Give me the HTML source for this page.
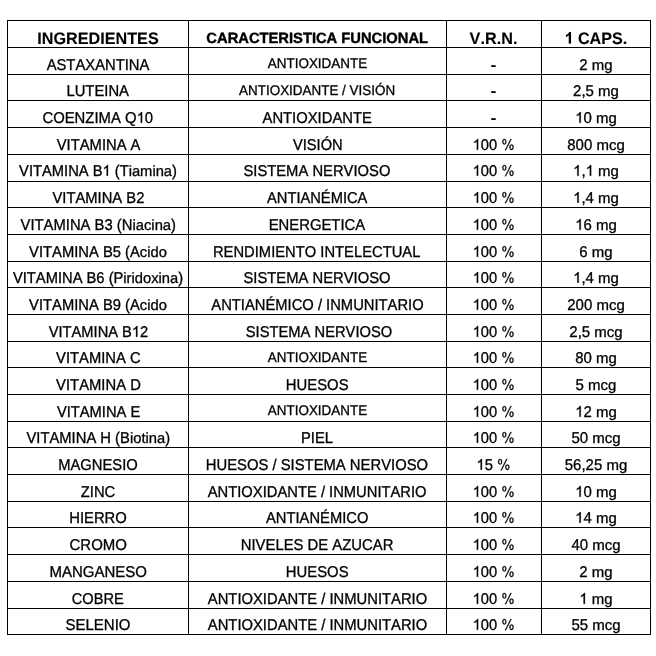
<!DOCTYPE html><html><head><meta charset="utf-8"><style>html,body{margin:0;padding:0;background:#fff;width:656px;height:656px;overflow:hidden}svg{display:block;will-change:transform}text{font-family:"Liberation Sans",sans-serif;fill:#000;font-kerning:none;text-rendering:geometricPrecision;stroke:#000;white-space:pre}path{fill:#000;stroke:#000;vector-effect:non-scaling-stroke}</style></head><body>
<svg width="656" height="656" viewBox="0 0 656 656">
<rect x="0" y="0" width="656" height="656" fill="#fff"/>
<rect x="7" y="20" width="644" height="1" fill="#000"/>
<rect x="7" y="47" width="644" height="1" fill="#000"/>
<rect x="7" y="74" width="644" height="1" fill="#000"/>
<rect x="7" y="100" width="644" height="1" fill="#000"/>
<rect x="7" y="127" width="644" height="1" fill="#000"/>
<rect x="7" y="154" width="644" height="1" fill="#000"/>
<rect x="7" y="181" width="644" height="1" fill="#000"/>
<rect x="7" y="207" width="644" height="1" fill="#000"/>
<rect x="7" y="234" width="644" height="1" fill="#000"/>
<rect x="7" y="261" width="644" height="1" fill="#000"/>
<rect x="7" y="287" width="644" height="1" fill="#000"/>
<rect x="7" y="314" width="644" height="1" fill="#000"/>
<rect x="7" y="341" width="644" height="1" fill="#000"/>
<rect x="7" y="367" width="644" height="1" fill="#000"/>
<rect x="7" y="394" width="644" height="1" fill="#000"/>
<rect x="7" y="421" width="644" height="1" fill="#000"/>
<rect x="7" y="447" width="644" height="1" fill="#000"/>
<rect x="7" y="474" width="644" height="1" fill="#000"/>
<rect x="7" y="501" width="644" height="1" fill="#000"/>
<rect x="7" y="527" width="644" height="1" fill="#000"/>
<rect x="7" y="554" width="644" height="1" fill="#000"/>
<rect x="7" y="581" width="644" height="1" fill="#000"/>
<rect x="7" y="608" width="644" height="1" fill="#000"/>
<rect x="7" y="634" width="644" height="1" fill="#000"/>
<rect x="7" y="20" width="1" height="615" fill="#000"/>
<rect x="188" y="20" width="1" height="615" fill="#000"/>
<rect x="446" y="20" width="1" height="615" fill="#000"/>
<rect x="541" y="20" width="1" height="615" fill="#000"/>
<rect x="650" y="20" width="1" height="615" fill="#000"/>
<text transform="translate(37.320 43.600) scale(1.0112 1.0405)" font-size="16" font-weight="bold" style="stroke-width:0.1px">INGREDIENTES</text>
<text transform="translate(206.360 43.000) scale(0.9952 1.0000)" font-size="14.8" font-weight="bold" style="stroke-width:0.4px">CARACTERISTICA FUNCIONAL</text>
<text transform="translate(469.578 43.600) scale(1.0150 1.0405)" font-size="16" font-weight="bold" style="stroke-width:0.1px">V.R.N.</text>
<path d="M834 0L553 0L553 1059C450 963 329 892 190 846L190 1101C263 1125 343 1170 429 1237C515 1304 574 1382 606 1472L834 1472Z" transform="translate(564.442 43.600) scale(0.007872 -0.007812)" style="stroke-width:0.1px"/>
<text transform="translate(573.408 43.600) scale(1.0076 1.0405)" font-size="16" font-weight="bold" style="stroke-width:0.1px"> CAPS.</text>
<text transform="translate(46.641 69.800) scale(0.9859 1.0405)" font-size="15" style="stroke-width:0.3px">ASTAXANTINA</text>
<text transform="translate(66.429 95.800) scale(0.9873 1.0405)" font-size="15" style="stroke-width:0.3px">LUTEINA</text>
<text transform="translate(42.398 122.800) scale(0.9912 1.0405)" font-size="15" style="stroke-width:0.3px">COENZIMA Q</text>
<path d="M763 0L583 0L583 1147C540 1106 483 1064 412 1023C342 981 278 950 223 929L223 1103C323 1150 411 1207 485 1274C560 1341 613 1406 644 1472L763 1472Z" transform="translate(136.564 122.800) scale(0.007260 -0.007324)" style="stroke-width:0.3px"/>
<text transform="translate(144.833 122.800) scale(0.9912 1.0405)" font-size="15" style="stroke-width:0.3px">0</text>
<text transform="translate(56.773 149.800) scale(0.9845 1.0405)" font-size="15" style="stroke-width:0.3px">VITAMINA A</text>
<text transform="translate(19.073 175.800) scale(0.9813 1.0405)" font-size="15" style="stroke-width:0.3px">VITAMINA B</text>
<path d="M763 0L583 0L583 1147C540 1106 483 1064 412 1023C342 981 278 950 223 929L223 1103C323 1150 411 1207 485 1274C560 1341 613 1406 644 1472L763 1472Z" transform="translate(102.496 175.800) scale(0.007187 -0.007324)" style="stroke-width:0.3px"/>
<text transform="translate(110.682 175.800) scale(0.9813 1.0405)" font-size="15" style="stroke-width:0.3px"> (T</text>
<text transform="translate(128.664 175.800) scale(0.9813 0.9815)" font-size="15" style="stroke-width:0.3px">iamina</text>
<text transform="translate(172.025 175.800) scale(0.9813 1.0405)" font-size="15" style="stroke-width:0.3px">)</text>
<text transform="translate(52.471 202.800) scale(0.9844 1.0405)" font-size="15" style="stroke-width:0.3px">VITAMINA B2</text>
<text transform="translate(20.579 229.800) scale(0.9867 1.0405)" font-size="15" style="stroke-width:0.3px">VITAMINA B3 (N</text>
<text transform="translate(132.421 229.800) scale(0.9867 0.9815)" font-size="15" style="stroke-width:0.3px">iacina</text>
<text transform="translate(171.092 229.800) scale(0.9867 1.0405)" font-size="15" style="stroke-width:0.3px">)</text>
<text transform="translate(29.087 256.800) scale(0.9842 1.0405)" font-size="15" style="stroke-width:0.3px">VITAMINA B5 (A</text>
<text transform="translate(139.831 256.800) scale(0.9842 0.9815)" font-size="15" style="stroke-width:0.3px">cido</text>
<text transform="translate(12.958 282.800) scale(0.9810 1.0405)" font-size="15" style="stroke-width:0.3px">VITAMINA B6 (P</text>
<text transform="translate(123.342 282.800) scale(0.9810 0.9815)" font-size="15" style="stroke-width:0.3px">iridoxina</text>
<text transform="translate(178.142 282.800) scale(0.9810 1.0405)" font-size="15" style="stroke-width:0.3px">)</text>
<text transform="translate(29.087 309.800) scale(0.9842 1.0405)" font-size="15" style="stroke-width:0.3px">VITAMINA B9 (A</text>
<text transform="translate(139.831 309.800) scale(0.9842 0.9815)" font-size="15" style="stroke-width:0.3px">cido</text>
<text transform="translate(48.695 336.800) scale(0.9787 1.0405)" font-size="15" style="stroke-width:0.3px">VITAMINA B</text>
<path d="M763 0L583 0L583 1147C540 1106 483 1064 412 1023C342 981 278 950 223 929L223 1103C323 1150 411 1207 485 1274C560 1341 613 1406 644 1472L763 1472Z" transform="translate(131.896 336.800) scale(0.007168 -0.007324)" style="stroke-width:0.3px"/>
<text transform="translate(140.061 336.800) scale(0.9787 1.0405)" font-size="15" style="stroke-width:0.3px">2</text>
<text transform="translate(56.100 362.800) scale(0.9844 1.0405)" font-size="15" style="stroke-width:0.3px">VITAMINA C</text>
<text transform="translate(56.102 389.800) scale(0.9876 1.0405)" font-size="15" style="stroke-width:0.3px">VITAMINA D</text>
<text transform="translate(56.920 416.800) scale(0.9794 1.0405)" font-size="15" style="stroke-width:0.3px">VITAMINA E</text>
<text transform="translate(26.485 442.800) scale(0.9847 1.0405)" font-size="15" style="stroke-width:0.3px">VITAMINA H (B</text>
<text transform="translate(129.886 442.800) scale(0.9847 0.9815)" font-size="15" style="stroke-width:0.3px">iotina</text>
<text transform="translate(165.196 442.800) scale(0.9847 1.0405)" font-size="15" style="stroke-width:0.3px">)</text>
<text transform="translate(58.216 469.800) scale(0.9842 1.0405)" font-size="15" style="stroke-width:0.3px">MAGNESIO</text>
<text transform="translate(80.744 496.800) scale(0.9862 1.0405)" font-size="15" style="stroke-width:0.3px">ZINC</text>
<text transform="translate(69.175 522.800) scale(0.9882 1.0405)" font-size="15" style="stroke-width:0.3px">HIERRO</text>
<text transform="translate(69.492 549.800) scale(1.0000 1.0405)" font-size="15" style="stroke-width:0.3px">CROMO</text>
<text transform="translate(49.483 576.800) scale(1.0000 1.0405)" font-size="15" style="stroke-width:0.3px">MANGANESO</text>
<text transform="translate(71.677 603.800) scale(0.9757 1.0405)" font-size="15" style="stroke-width:0.3px">COBRE</text>
<text transform="translate(65.488 629.800) scale(1.0000 1.0405)" font-size="15" style="stroke-width:0.3px">SELENIO</text>
<text transform="translate(267.819 67.800) scale(0.9960 1.0405)" font-size="13.5" style="stroke-width:0.3px">ANTIOXIDANTE</text>
<text transform="translate(239.076 94.800) scale(0.9955 1.0405)" font-size="13.5" style="stroke-width:0.3px">ANTIOXIDANTE / VISIÓN</text>
<text transform="translate(262.538 122.800) scale(0.9861 1.0405)" font-size="15" style="stroke-width:0.3px">ANTIOXIDANTE</text>
<text transform="translate(293.010 149.800) scale(0.9763 1.0405)" font-size="15" style="stroke-width:0.3px">VISIÓN</text>
<text transform="translate(243.417 175.800) scale(0.9852 1.0405)" font-size="15" style="stroke-width:0.3px">SISTEMA NERVIOSO</text>
<text transform="translate(267.042 202.800) scale(0.9786 1.0405)" font-size="15" style="stroke-width:0.3px">ANTIANÉMICA</text>
<text transform="translate(268.635 229.800) scale(0.9901 1.0405)" font-size="15" style="stroke-width:0.3px">ENERGETICA</text>
<text transform="translate(212.951 256.800) scale(0.9836 1.0405)" font-size="15" style="stroke-width:0.3px">RENDIMIENTO INTELECTUAL</text>
<text transform="translate(243.517 282.800) scale(0.9852 1.0405)" font-size="15" style="stroke-width:0.3px">SISTEMA NERVIOSO</text>
<text transform="translate(211.362 309.800) scale(0.9835 1.0405)" font-size="15" style="stroke-width:0.3px">ANTIANÉMICO / INMUNITARIO</text>
<text transform="translate(245.718 336.800) scale(0.9825 1.0405)" font-size="15" style="stroke-width:0.3px">SISTEMA NERVIOSO</text>
<text transform="translate(267.854 361.800) scale(0.9953 1.0405)" font-size="13.5" style="stroke-width:0.3px">ANTIOXIDANTE</text>
<text transform="translate(285.820 389.800) scale(0.9901 1.0405)" font-size="15" style="stroke-width:0.3px">HUESOS</text>
<text transform="translate(267.854 414.800) scale(0.9953 1.0405)" font-size="13.5" style="stroke-width:0.3px">ANTIOXIDANTE</text>
<text transform="translate(300.943 442.800) scale(0.9851 1.0405)" font-size="15" style="stroke-width:0.3px">PIEL</text>
<text transform="translate(205.748 469.800) scale(0.9880 1.0405)" font-size="15" style="stroke-width:0.3px">HUESOS / SISTEMA NERVIOSO</text>
<text transform="translate(207.761 496.800) scale(0.9835 1.0405)" font-size="15" style="stroke-width:0.3px">ANTIOXIDANTE / INMUNITARIO</text>
<text transform="translate(266.021 522.800) scale(0.9824 1.0405)" font-size="15" style="stroke-width:0.3px">ANTIANÉMICO</text>
<text transform="translate(240.703 549.800) scale(0.9906 1.0405)" font-size="15" style="stroke-width:0.3px">NIVELES DE AZUCAR</text>
<text transform="translate(285.820 576.800) scale(0.9901 1.0405)" font-size="15" style="stroke-width:0.3px">HUESOS</text>
<text transform="translate(207.814 603.800) scale(0.9859 1.0405)" font-size="15" style="stroke-width:0.3px">ANTIOXIDANTE / INMUNITARIO</text>
<text transform="translate(207.814 629.800) scale(0.9859 1.0405)" font-size="15" style="stroke-width:0.3px">ANTIOXIDANTE / INMUNITARIO</text>
<rect x="491.2" y="65.20" width="4.5" height="1.8" fill="#000"/>
<rect x="491.2" y="91.20" width="4.5" height="1.8" fill="#000"/>
<rect x="491.2" y="118.20" width="4.5" height="1.8" fill="#000"/>
<path d="M763 0L583 0L583 1147C540 1106 483 1064 412 1023C342 981 278 950 223 929L223 1103C323 1150 411 1207 485 1274C560 1341 613 1406 644 1472L763 1472Z" transform="translate(472.652 149.800) scale(0.007163 -0.007324)" style="stroke-width:0.3px"/>
<text transform="translate(480.811 149.800) scale(0.9780 1.0405)" font-size="15" style="stroke-width:0.3px">00 </text>
<path d="M160 1095A280 375 0 1 1 720 1095A280 375 0 1 1 160 1095ZM290 1095A150 262 0 1 0 590 1095A150 262 0 1 0 290 1095ZM1156 355A285 375 0 1 1 1726 355A285 375 0 1 1 1156 355ZM1286 355A155 262 0 1 0 1596 355A155 262 0 1 0 1286 355ZM1300 1472L1440 1472L660 -55L520 -55Z" fill-rule="evenodd" transform="translate(501.204 149.800) scale(0.007163 -0.007324)" style="stroke-width:0.3px"/>
<path d="M763 0L583 0L583 1147C540 1106 483 1064 412 1023C342 981 278 950 223 929L223 1103C323 1150 411 1207 485 1274C560 1341 613 1406 644 1472L763 1472Z" transform="translate(472.652 175.800) scale(0.007163 -0.007324)" style="stroke-width:0.3px"/>
<text transform="translate(480.811 175.800) scale(0.9780 1.0405)" font-size="15" style="stroke-width:0.3px">00 </text>
<path d="M160 1095A280 375 0 1 1 720 1095A280 375 0 1 1 160 1095ZM290 1095A150 262 0 1 0 590 1095A150 262 0 1 0 290 1095ZM1156 355A285 375 0 1 1 1726 355A285 375 0 1 1 1156 355ZM1286 355A155 262 0 1 0 1596 355A155 262 0 1 0 1286 355ZM1300 1472L1440 1472L660 -55L520 -55Z" fill-rule="evenodd" transform="translate(501.204 175.800) scale(0.007163 -0.007324)" style="stroke-width:0.3px"/>
<path d="M763 0L583 0L583 1147C540 1106 483 1064 412 1023C342 981 278 950 223 929L223 1103C323 1150 411 1207 485 1274C560 1341 613 1406 644 1472L763 1472Z" transform="translate(472.652 202.800) scale(0.007163 -0.007324)" style="stroke-width:0.3px"/>
<text transform="translate(480.811 202.800) scale(0.9780 1.0405)" font-size="15" style="stroke-width:0.3px">00 </text>
<path d="M160 1095A280 375 0 1 1 720 1095A280 375 0 1 1 160 1095ZM290 1095A150 262 0 1 0 590 1095A150 262 0 1 0 290 1095ZM1156 355A285 375 0 1 1 1726 355A285 375 0 1 1 1156 355ZM1286 355A155 262 0 1 0 1596 355A155 262 0 1 0 1286 355ZM1300 1472L1440 1472L660 -55L520 -55Z" fill-rule="evenodd" transform="translate(501.204 202.800) scale(0.007163 -0.007324)" style="stroke-width:0.3px"/>
<path d="M763 0L583 0L583 1147C540 1106 483 1064 412 1023C342 981 278 950 223 929L223 1103C323 1150 411 1207 485 1274C560 1341 613 1406 644 1472L763 1472Z" transform="translate(472.652 229.800) scale(0.007163 -0.007324)" style="stroke-width:0.3px"/>
<text transform="translate(480.811 229.800) scale(0.9780 1.0405)" font-size="15" style="stroke-width:0.3px">00 </text>
<path d="M160 1095A280 375 0 1 1 720 1095A280 375 0 1 1 160 1095ZM290 1095A150 262 0 1 0 590 1095A150 262 0 1 0 290 1095ZM1156 355A285 375 0 1 1 1726 355A285 375 0 1 1 1156 355ZM1286 355A155 262 0 1 0 1596 355A155 262 0 1 0 1286 355ZM1300 1472L1440 1472L660 -55L520 -55Z" fill-rule="evenodd" transform="translate(501.204 229.800) scale(0.007163 -0.007324)" style="stroke-width:0.3px"/>
<path d="M763 0L583 0L583 1147C540 1106 483 1064 412 1023C342 981 278 950 223 929L223 1103C323 1150 411 1207 485 1274C560 1341 613 1406 644 1472L763 1472Z" transform="translate(472.652 256.800) scale(0.007163 -0.007324)" style="stroke-width:0.3px"/>
<text transform="translate(480.811 256.800) scale(0.9780 1.0405)" font-size="15" style="stroke-width:0.3px">00 </text>
<path d="M160 1095A280 375 0 1 1 720 1095A280 375 0 1 1 160 1095ZM290 1095A150 262 0 1 0 590 1095A150 262 0 1 0 290 1095ZM1156 355A285 375 0 1 1 1726 355A285 375 0 1 1 1156 355ZM1286 355A155 262 0 1 0 1596 355A155 262 0 1 0 1286 355ZM1300 1472L1440 1472L660 -55L520 -55Z" fill-rule="evenodd" transform="translate(501.204 256.800) scale(0.007163 -0.007324)" style="stroke-width:0.3px"/>
<path d="M763 0L583 0L583 1147C540 1106 483 1064 412 1023C342 981 278 950 223 929L223 1103C323 1150 411 1207 485 1274C560 1341 613 1406 644 1472L763 1472Z" transform="translate(472.652 282.800) scale(0.007163 -0.007324)" style="stroke-width:0.3px"/>
<text transform="translate(480.811 282.800) scale(0.9780 1.0405)" font-size="15" style="stroke-width:0.3px">00 </text>
<path d="M160 1095A280 375 0 1 1 720 1095A280 375 0 1 1 160 1095ZM290 1095A150 262 0 1 0 590 1095A150 262 0 1 0 290 1095ZM1156 355A285 375 0 1 1 1726 355A285 375 0 1 1 1156 355ZM1286 355A155 262 0 1 0 1596 355A155 262 0 1 0 1286 355ZM1300 1472L1440 1472L660 -55L520 -55Z" fill-rule="evenodd" transform="translate(501.204 282.800) scale(0.007163 -0.007324)" style="stroke-width:0.3px"/>
<path d="M763 0L583 0L583 1147C540 1106 483 1064 412 1023C342 981 278 950 223 929L223 1103C323 1150 411 1207 485 1274C560 1341 613 1406 644 1472L763 1472Z" transform="translate(472.652 309.800) scale(0.007163 -0.007324)" style="stroke-width:0.3px"/>
<text transform="translate(480.811 309.800) scale(0.9780 1.0405)" font-size="15" style="stroke-width:0.3px">00 </text>
<path d="M160 1095A280 375 0 1 1 720 1095A280 375 0 1 1 160 1095ZM290 1095A150 262 0 1 0 590 1095A150 262 0 1 0 290 1095ZM1156 355A285 375 0 1 1 1726 355A285 375 0 1 1 1156 355ZM1286 355A155 262 0 1 0 1596 355A155 262 0 1 0 1286 355ZM1300 1472L1440 1472L660 -55L520 -55Z" fill-rule="evenodd" transform="translate(501.204 309.800) scale(0.007163 -0.007324)" style="stroke-width:0.3px"/>
<path d="M763 0L583 0L583 1147C540 1106 483 1064 412 1023C342 981 278 950 223 929L223 1103C323 1150 411 1207 485 1274C560 1341 613 1406 644 1472L763 1472Z" transform="translate(472.652 336.800) scale(0.007163 -0.007324)" style="stroke-width:0.3px"/>
<text transform="translate(480.811 336.800) scale(0.9780 1.0405)" font-size="15" style="stroke-width:0.3px">00 </text>
<path d="M160 1095A280 375 0 1 1 720 1095A280 375 0 1 1 160 1095ZM290 1095A150 262 0 1 0 590 1095A150 262 0 1 0 290 1095ZM1156 355A285 375 0 1 1 1726 355A285 375 0 1 1 1156 355ZM1286 355A155 262 0 1 0 1596 355A155 262 0 1 0 1286 355ZM1300 1472L1440 1472L660 -55L520 -55Z" fill-rule="evenodd" transform="translate(501.204 336.800) scale(0.007163 -0.007324)" style="stroke-width:0.3px"/>
<path d="M763 0L583 0L583 1147C540 1106 483 1064 412 1023C342 981 278 950 223 929L223 1103C323 1150 411 1207 485 1274C560 1341 613 1406 644 1472L763 1472Z" transform="translate(472.652 362.800) scale(0.007163 -0.007324)" style="stroke-width:0.3px"/>
<text transform="translate(480.811 362.800) scale(0.9780 1.0405)" font-size="15" style="stroke-width:0.3px">00 </text>
<path d="M160 1095A280 375 0 1 1 720 1095A280 375 0 1 1 160 1095ZM290 1095A150 262 0 1 0 590 1095A150 262 0 1 0 290 1095ZM1156 355A285 375 0 1 1 1726 355A285 375 0 1 1 1156 355ZM1286 355A155 262 0 1 0 1596 355A155 262 0 1 0 1286 355ZM1300 1472L1440 1472L660 -55L520 -55Z" fill-rule="evenodd" transform="translate(501.204 362.800) scale(0.007163 -0.007324)" style="stroke-width:0.3px"/>
<path d="M763 0L583 0L583 1147C540 1106 483 1064 412 1023C342 981 278 950 223 929L223 1103C323 1150 411 1207 485 1274C560 1341 613 1406 644 1472L763 1472Z" transform="translate(472.652 389.800) scale(0.007163 -0.007324)" style="stroke-width:0.3px"/>
<text transform="translate(480.811 389.800) scale(0.9780 1.0405)" font-size="15" style="stroke-width:0.3px">00 </text>
<path d="M160 1095A280 375 0 1 1 720 1095A280 375 0 1 1 160 1095ZM290 1095A150 262 0 1 0 590 1095A150 262 0 1 0 290 1095ZM1156 355A285 375 0 1 1 1726 355A285 375 0 1 1 1156 355ZM1286 355A155 262 0 1 0 1596 355A155 262 0 1 0 1286 355ZM1300 1472L1440 1472L660 -55L520 -55Z" fill-rule="evenodd" transform="translate(501.204 389.800) scale(0.007163 -0.007324)" style="stroke-width:0.3px"/>
<path d="M763 0L583 0L583 1147C540 1106 483 1064 412 1023C342 981 278 950 223 929L223 1103C323 1150 411 1207 485 1274C560 1341 613 1406 644 1472L763 1472Z" transform="translate(472.652 416.800) scale(0.007163 -0.007324)" style="stroke-width:0.3px"/>
<text transform="translate(480.811 416.800) scale(0.9780 1.0405)" font-size="15" style="stroke-width:0.3px">00 </text>
<path d="M160 1095A280 375 0 1 1 720 1095A280 375 0 1 1 160 1095ZM290 1095A150 262 0 1 0 590 1095A150 262 0 1 0 290 1095ZM1156 355A285 375 0 1 1 1726 355A285 375 0 1 1 1156 355ZM1286 355A155 262 0 1 0 1596 355A155 262 0 1 0 1286 355ZM1300 1472L1440 1472L660 -55L520 -55Z" fill-rule="evenodd" transform="translate(501.204 416.800) scale(0.007163 -0.007324)" style="stroke-width:0.3px"/>
<path d="M763 0L583 0L583 1147C540 1106 483 1064 412 1023C342 981 278 950 223 929L223 1103C323 1150 411 1207 485 1274C560 1341 613 1406 644 1472L763 1472Z" transform="translate(472.652 442.800) scale(0.007163 -0.007324)" style="stroke-width:0.3px"/>
<text transform="translate(480.811 442.800) scale(0.9780 1.0405)" font-size="15" style="stroke-width:0.3px">00 </text>
<path d="M160 1095A280 375 0 1 1 720 1095A280 375 0 1 1 160 1095ZM290 1095A150 262 0 1 0 590 1095A150 262 0 1 0 290 1095ZM1156 355A285 375 0 1 1 1726 355A285 375 0 1 1 1156 355ZM1286 355A155 262 0 1 0 1596 355A155 262 0 1 0 1286 355ZM1300 1472L1440 1472L660 -55L520 -55Z" fill-rule="evenodd" transform="translate(501.204 442.800) scale(0.007163 -0.007324)" style="stroke-width:0.3px"/>
<path d="M763 0L583 0L583 1147C540 1106 483 1064 412 1023C342 981 278 950 223 929L223 1103C323 1150 411 1207 485 1274C560 1341 613 1406 644 1472L763 1472Z" transform="translate(476.412 469.800) scale(0.007214 -0.007324)" style="stroke-width:0.3px"/>
<text transform="translate(484.629 469.800) scale(0.9850 1.0405)" font-size="15" style="stroke-width:0.3px">5 </text>
<path d="M160 1095A280 375 0 1 1 720 1095A280 375 0 1 1 160 1095ZM290 1095A150 262 0 1 0 590 1095A150 262 0 1 0 290 1095ZM1156 355A285 375 0 1 1 1726 355A285 375 0 1 1 1156 355ZM1286 355A155 262 0 1 0 1596 355A155 262 0 1 0 1286 355ZM1300 1472L1440 1472L660 -55L520 -55Z" fill-rule="evenodd" transform="translate(496.951 469.800) scale(0.007214 -0.007324)" style="stroke-width:0.3px"/>
<path d="M763 0L583 0L583 1147C540 1106 483 1064 412 1023C342 981 278 950 223 929L223 1103C323 1150 411 1207 485 1274C560 1341 613 1406 644 1472L763 1472Z" transform="translate(472.652 496.800) scale(0.007163 -0.007324)" style="stroke-width:0.3px"/>
<text transform="translate(480.811 496.800) scale(0.9780 1.0405)" font-size="15" style="stroke-width:0.3px">00 </text>
<path d="M160 1095A280 375 0 1 1 720 1095A280 375 0 1 1 160 1095ZM290 1095A150 262 0 1 0 590 1095A150 262 0 1 0 290 1095ZM1156 355A285 375 0 1 1 1726 355A285 375 0 1 1 1156 355ZM1286 355A155 262 0 1 0 1596 355A155 262 0 1 0 1286 355ZM1300 1472L1440 1472L660 -55L520 -55Z" fill-rule="evenodd" transform="translate(501.204 496.800) scale(0.007163 -0.007324)" style="stroke-width:0.3px"/>
<path d="M763 0L583 0L583 1147C540 1106 483 1064 412 1023C342 981 278 950 223 929L223 1103C323 1150 411 1207 485 1274C560 1341 613 1406 644 1472L763 1472Z" transform="translate(472.652 522.800) scale(0.007163 -0.007324)" style="stroke-width:0.3px"/>
<text transform="translate(480.811 522.800) scale(0.9780 1.0405)" font-size="15" style="stroke-width:0.3px">00 </text>
<path d="M160 1095A280 375 0 1 1 720 1095A280 375 0 1 1 160 1095ZM290 1095A150 262 0 1 0 590 1095A150 262 0 1 0 290 1095ZM1156 355A285 375 0 1 1 1726 355A285 375 0 1 1 1156 355ZM1286 355A155 262 0 1 0 1596 355A155 262 0 1 0 1286 355ZM1300 1472L1440 1472L660 -55L520 -55Z" fill-rule="evenodd" transform="translate(501.204 522.800) scale(0.007163 -0.007324)" style="stroke-width:0.3px"/>
<path d="M763 0L583 0L583 1147C540 1106 483 1064 412 1023C342 981 278 950 223 929L223 1103C323 1150 411 1207 485 1274C560 1341 613 1406 644 1472L763 1472Z" transform="translate(472.652 549.800) scale(0.007163 -0.007324)" style="stroke-width:0.3px"/>
<text transform="translate(480.811 549.800) scale(0.9780 1.0405)" font-size="15" style="stroke-width:0.3px">00 </text>
<path d="M160 1095A280 375 0 1 1 720 1095A280 375 0 1 1 160 1095ZM290 1095A150 262 0 1 0 590 1095A150 262 0 1 0 290 1095ZM1156 355A285 375 0 1 1 1726 355A285 375 0 1 1 1156 355ZM1286 355A155 262 0 1 0 1596 355A155 262 0 1 0 1286 355ZM1300 1472L1440 1472L660 -55L520 -55Z" fill-rule="evenodd" transform="translate(501.204 549.800) scale(0.007163 -0.007324)" style="stroke-width:0.3px"/>
<path d="M763 0L583 0L583 1147C540 1106 483 1064 412 1023C342 981 278 950 223 929L223 1103C323 1150 411 1207 485 1274C560 1341 613 1406 644 1472L763 1472Z" transform="translate(472.652 576.800) scale(0.007163 -0.007324)" style="stroke-width:0.3px"/>
<text transform="translate(480.811 576.800) scale(0.9780 1.0405)" font-size="15" style="stroke-width:0.3px">00 </text>
<path d="M160 1095A280 375 0 1 1 720 1095A280 375 0 1 1 160 1095ZM290 1095A150 262 0 1 0 590 1095A150 262 0 1 0 290 1095ZM1156 355A285 375 0 1 1 1726 355A285 375 0 1 1 1156 355ZM1286 355A155 262 0 1 0 1596 355A155 262 0 1 0 1286 355ZM1300 1472L1440 1472L660 -55L520 -55Z" fill-rule="evenodd" transform="translate(501.204 576.800) scale(0.007163 -0.007324)" style="stroke-width:0.3px"/>
<path d="M763 0L583 0L583 1147C540 1106 483 1064 412 1023C342 981 278 950 223 929L223 1103C323 1150 411 1207 485 1274C560 1341 613 1406 644 1472L763 1472Z" transform="translate(472.652 603.800) scale(0.007163 -0.007324)" style="stroke-width:0.3px"/>
<text transform="translate(480.811 603.800) scale(0.9780 1.0405)" font-size="15" style="stroke-width:0.3px">00 </text>
<path d="M160 1095A280 375 0 1 1 720 1095A280 375 0 1 1 160 1095ZM290 1095A150 262 0 1 0 590 1095A150 262 0 1 0 290 1095ZM1156 355A285 375 0 1 1 1726 355A285 375 0 1 1 1156 355ZM1286 355A155 262 0 1 0 1596 355A155 262 0 1 0 1286 355ZM1300 1472L1440 1472L660 -55L520 -55Z" fill-rule="evenodd" transform="translate(501.204 603.800) scale(0.007163 -0.007324)" style="stroke-width:0.3px"/>
<path d="M763 0L583 0L583 1147C540 1106 483 1064 412 1023C342 981 278 950 223 929L223 1103C323 1150 411 1207 485 1274C560 1341 613 1406 644 1472L763 1472Z" transform="translate(472.652 629.800) scale(0.007163 -0.007324)" style="stroke-width:0.3px"/>
<text transform="translate(480.811 629.800) scale(0.9780 1.0405)" font-size="15" style="stroke-width:0.3px">00 </text>
<path d="M160 1095A280 375 0 1 1 720 1095A280 375 0 1 1 160 1095ZM290 1095A150 262 0 1 0 590 1095A150 262 0 1 0 290 1095ZM1156 355A285 375 0 1 1 1726 355A285 375 0 1 1 1156 355ZM1286 355A155 262 0 1 0 1596 355A155 262 0 1 0 1286 355ZM1300 1472L1440 1472L660 -55L520 -55Z" fill-rule="evenodd" transform="translate(501.204 629.800) scale(0.007163 -0.007324)" style="stroke-width:0.3px"/>
<text transform="translate(579.326 69.800) scale(1.0000 1.0405)" font-size="15" style="stroke-width:0.3px">2 </text>
<text transform="translate(591.836 69.800) scale(1.0000 0.9815)" font-size="15" style="stroke-width:0.3px">mg</text>
<text transform="translate(573.072 95.800) scale(1.0000 1.0405)" font-size="15" style="stroke-width:0.3px">2,5 </text>
<text transform="translate(598.091 95.800) scale(1.0000 0.9815)" font-size="15" style="stroke-width:0.3px">mg</text>
<path d="M763 0L583 0L583 1147C540 1106 483 1064 412 1023C342 981 278 950 223 929L223 1103C323 1150 411 1207 485 1274C560 1341 613 1406 644 1472L763 1472Z" transform="translate(575.155 122.800) scale(0.007324 -0.007324)" style="stroke-width:0.3px"/>
<text transform="translate(583.498 122.800) scale(1.0000 1.0405)" font-size="15" style="stroke-width:0.3px">0 </text>
<text transform="translate(596.007 122.800) scale(1.0000 0.9815)" font-size="15" style="stroke-width:0.3px">mg</text>
<text transform="translate(567.234 149.800) scale(1.0000 1.0405)" font-size="15" style="stroke-width:0.3px">800 </text>
<text transform="translate(596.428 149.800) scale(1.0000 0.9815)" font-size="15" style="stroke-width:0.3px">mcg</text>
<path d="M763 0L583 0L583 1147C540 1106 483 1064 412 1023C342 981 278 950 223 929L223 1103C323 1150 411 1207 485 1274C560 1341 613 1406 644 1472L763 1472Z" transform="translate(573.072 175.800) scale(0.007324 -0.007324)" style="stroke-width:0.3px"/>
<text transform="translate(581.414 175.800) scale(1.0000 1.0405)" font-size="15" style="stroke-width:0.3px">,</text>
<path d="M763 0L583 0L583 1147C540 1106 483 1064 412 1023C342 981 278 950 223 929L223 1103C323 1150 411 1207 485 1274C560 1341 613 1406 644 1472L763 1472Z" transform="translate(585.581 175.800) scale(0.007324 -0.007324)" style="stroke-width:0.3px"/>
<text transform="translate(598.091 175.800) scale(1.0000 0.9815)" font-size="15" style="stroke-width:0.3px">mg</text>
<path d="M763 0L583 0L583 1147C540 1106 483 1064 412 1023C342 981 278 950 223 929L223 1103C323 1150 411 1207 485 1274C560 1341 613 1406 644 1472L763 1472Z" transform="translate(573.072 202.800) scale(0.007324 -0.007324)" style="stroke-width:0.3px"/>
<text transform="translate(581.414 202.800) scale(1.0000 1.0405)" font-size="15" style="stroke-width:0.3px">,4 </text>
<text transform="translate(598.091 202.800) scale(1.0000 0.9815)" font-size="15" style="stroke-width:0.3px">mg</text>
<path d="M763 0L583 0L583 1147C540 1106 483 1064 412 1023C342 981 278 950 223 929L223 1103C323 1150 411 1207 485 1274C560 1341 613 1406 644 1472L763 1472Z" transform="translate(575.155 229.800) scale(0.007324 -0.007324)" style="stroke-width:0.3px"/>
<text transform="translate(583.498 229.800) scale(1.0000 1.0405)" font-size="15" style="stroke-width:0.3px">6 </text>
<text transform="translate(596.007 229.800) scale(1.0000 0.9815)" font-size="15" style="stroke-width:0.3px">mg</text>
<text transform="translate(579.326 256.800) scale(1.0000 1.0405)" font-size="15" style="stroke-width:0.3px">6 </text>
<text transform="translate(591.836 256.800) scale(1.0000 0.9815)" font-size="15" style="stroke-width:0.3px">mg</text>
<path d="M763 0L583 0L583 1147C540 1106 483 1064 412 1023C342 981 278 950 223 929L223 1103C323 1150 411 1207 485 1274C560 1341 613 1406 644 1472L763 1472Z" transform="translate(573.072 282.800) scale(0.007324 -0.007324)" style="stroke-width:0.3px"/>
<text transform="translate(581.414 282.800) scale(1.0000 1.0405)" font-size="15" style="stroke-width:0.3px">,4 </text>
<text transform="translate(598.091 282.800) scale(1.0000 0.9815)" font-size="15" style="stroke-width:0.3px">mg</text>
<text transform="translate(567.234 309.800) scale(1.0000 1.0405)" font-size="15" style="stroke-width:0.3px">200 </text>
<text transform="translate(596.428 309.800) scale(1.0000 0.9815)" font-size="15" style="stroke-width:0.3px">mcg</text>
<text transform="translate(569.322 336.800) scale(1.0000 1.0405)" font-size="15" style="stroke-width:0.3px">2,5 </text>
<text transform="translate(594.341 336.800) scale(1.0000 0.9815)" font-size="15" style="stroke-width:0.3px">mcg</text>
<text transform="translate(575.155 362.800) scale(1.0000 1.0405)" font-size="15" style="stroke-width:0.3px">80 </text>
<text transform="translate(596.007 362.800) scale(1.0000 0.9815)" font-size="15" style="stroke-width:0.3px">mg</text>
<text transform="translate(575.576 389.800) scale(1.0000 1.0405)" font-size="15" style="stroke-width:0.3px">5 </text>
<text transform="translate(588.086 389.800) scale(1.0000 0.9815)" font-size="15" style="stroke-width:0.3px">mcg</text>
<path d="M763 0L583 0L583 1147C540 1106 483 1064 412 1023C342 981 278 950 223 929L223 1103C323 1150 411 1207 485 1274C560 1341 613 1406 644 1472L763 1472Z" transform="translate(575.155 416.800) scale(0.007324 -0.007324)" style="stroke-width:0.3px"/>
<text transform="translate(583.498 416.800) scale(1.0000 1.0405)" font-size="15" style="stroke-width:0.3px">2 </text>
<text transform="translate(596.007 416.800) scale(1.0000 0.9815)" font-size="15" style="stroke-width:0.3px">mg</text>
<text transform="translate(571.405 442.800) scale(1.0000 1.0405)" font-size="15" style="stroke-width:0.3px">50 </text>
<text transform="translate(592.257 442.800) scale(1.0000 0.9815)" font-size="15" style="stroke-width:0.3px">mcg</text>
<text transform="translate(564.729 469.800) scale(1.0000 1.0405)" font-size="15" style="stroke-width:0.3px">56,25 </text>
<text transform="translate(606.433 469.800) scale(1.0000 0.9815)" font-size="15" style="stroke-width:0.3px">mg</text>
<path d="M763 0L583 0L583 1147C540 1106 483 1064 412 1023C342 981 278 950 223 929L223 1103C323 1150 411 1207 485 1274C560 1341 613 1406 644 1472L763 1472Z" transform="translate(575.155 496.800) scale(0.007324 -0.007324)" style="stroke-width:0.3px"/>
<text transform="translate(583.498 496.800) scale(1.0000 1.0405)" font-size="15" style="stroke-width:0.3px">0 </text>
<text transform="translate(596.007 496.800) scale(1.0000 0.9815)" font-size="15" style="stroke-width:0.3px">mg</text>
<path d="M763 0L583 0L583 1147C540 1106 483 1064 412 1023C342 981 278 950 223 929L223 1103C323 1150 411 1207 485 1274C560 1341 613 1406 644 1472L763 1472Z" transform="translate(575.155 522.800) scale(0.007324 -0.007324)" style="stroke-width:0.3px"/>
<text transform="translate(583.498 522.800) scale(1.0000 1.0405)" font-size="15" style="stroke-width:0.3px">4 </text>
<text transform="translate(596.007 522.800) scale(1.0000 0.9815)" font-size="15" style="stroke-width:0.3px">mg</text>
<text transform="translate(571.405 549.800) scale(1.0000 1.0405)" font-size="15" style="stroke-width:0.3px">40 </text>
<text transform="translate(592.257 549.800) scale(1.0000 0.9815)" font-size="15" style="stroke-width:0.3px">mcg</text>
<text transform="translate(579.326 576.800) scale(1.0000 1.0405)" font-size="15" style="stroke-width:0.3px">2 </text>
<text transform="translate(591.836 576.800) scale(1.0000 0.9815)" font-size="15" style="stroke-width:0.3px">mg</text>
<path d="M763 0L583 0L583 1147C540 1106 483 1064 412 1023C342 981 278 950 223 929L223 1103C323 1150 411 1207 485 1274C560 1341 613 1406 644 1472L763 1472Z" transform="translate(579.326 603.800) scale(0.007324 -0.007324)" style="stroke-width:0.3px"/>
<text transform="translate(591.836 603.800) scale(1.0000 0.9815)" font-size="15" style="stroke-width:0.3px">mg</text>
<text transform="translate(571.405 629.800) scale(1.0000 1.0405)" font-size="15" style="stroke-width:0.3px">55 </text>
<text transform="translate(592.257 629.800) scale(1.0000 0.9815)" font-size="15" style="stroke-width:0.3px">mcg</text>
</svg></body></html>
